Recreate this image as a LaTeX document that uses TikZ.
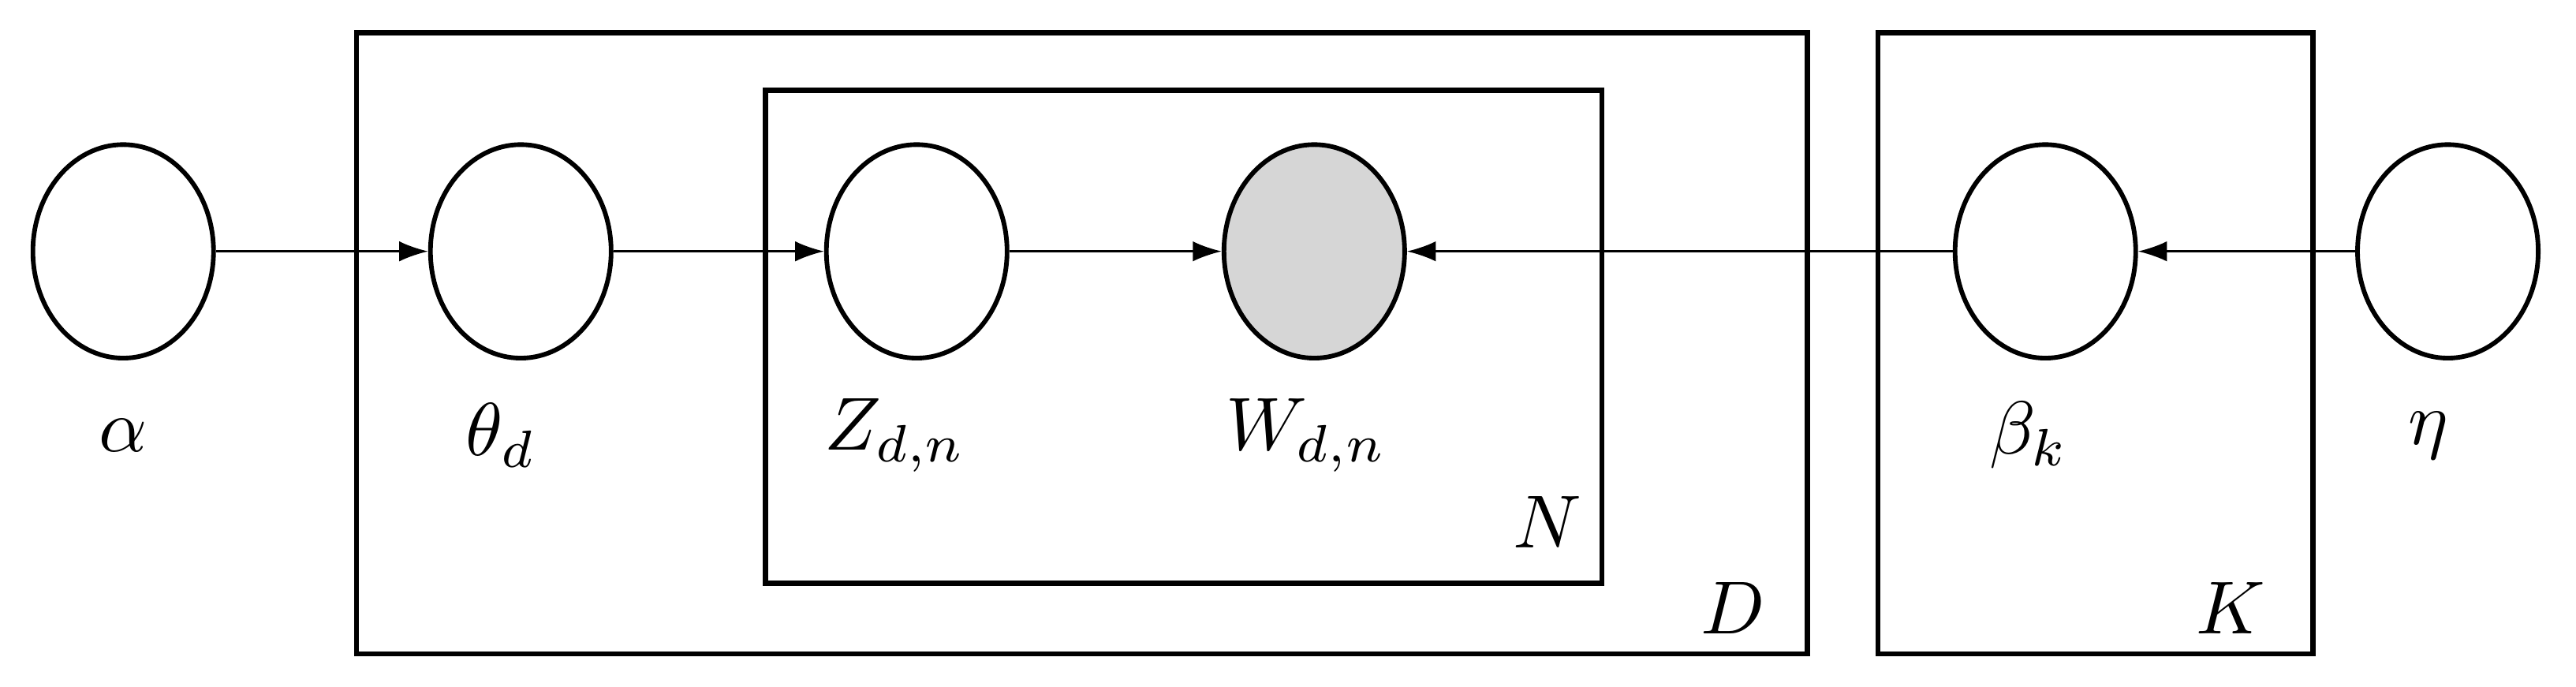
\documentclass[tikz,border=0pt]{standalone}
\usetikzlibrary{arrows.meta,shapes.geometric}
\begin{document}
\begin{tikzpicture}[x=0.02cm,y=-0.02cm,
  var/.style={draw,line width=1.6pt,ellipse,minimum width=2.2cm,minimum height=2.6cm,inner sep=0pt},
  obs/.style={var,fill=black!16},
  plate/.style={draw,line width=1.8pt},
  lab/.style={scale=2.6},
  conn/.style={-{Latex[length=10pt,width=7pt]},line width=0.7pt}]
\useasboundingbox (0,0) rectangle (1568,418);
\draw[plate] (217,20) rectangle (1100,398);
\draw[plate] (466,55) rectangle (975,355);
\draw[plate] (1143,20) rectangle (1408,398);
\node[var] (a) at (75,153) {};
\node[var] (t) at (317,153) {};
\node[var] (z) at (558,153) {};
\node[obs] (w) at (800,153) {};
\node[var] (b) at (1245,153) {};
\node[var] (e) at (1490,153) {};
\draw[conn] (a) -- (t);
\draw[conn] (t) -- (z);
\draw[conn] (z) -- (w);
\draw[conn] (b) -- (w);
\draw[conn] (e) -- (b);
\node[lab] (la) at (75,265) {$\alpha$};
\node[lab] (lt) at (305,265) {$\theta_d$};
\node[lab] (lz) at (545,265) {$Z_{d,n}$};
\node[lab] (lw) at (795,265) {$W_{d,n}$};
\node[lab] (lb) at (1235,265) {$\beta_k$};
\node[lab] (le) at (1478,265) {$\eta$};
\node[lab] (ln) at (942,318) {$N$};
\node[lab] (ld) at (1055,370) {$D$};
\node[lab] (lk) at (1358,370) {$K$};
\end{tikzpicture}
\end{document}
